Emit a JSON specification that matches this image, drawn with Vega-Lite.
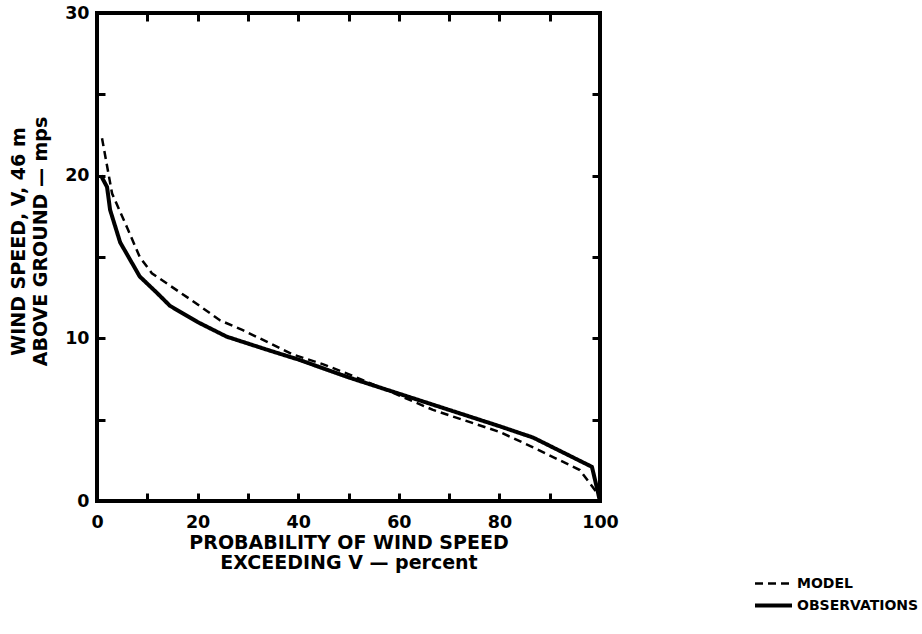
{
  "$schema": "https://vega.github.io/schema/vega-lite/v6.json",
  "width": 503,
  "height": 488,
  "autosize": "none",
  "padding": {"left": 97, "top": 13, "right": 322, "bottom": 133},
  "config": {
    "view": {"stroke": "black", "strokeWidth": 4},
    "font": "DejaVu Sans",
    "axis": {
      "domain": false,
      "grid": false,
      "tickColor": "black",
      "tickWidth": 3,
      "tickSize": -8,
      "labelColor": "black",
      "labelFont": "DejaVu Sans",
      "labelFontWeight": "bold",
      "labelFontSize": 17.5,
      "labelFlush": false,
      "labelOverlap": false,
      "titleColor": "black",
      "titleFont": "DejaVu Sans",
      "titleFontWeight": "bold",
      "titleFontSize": 19,
      "titleLineHeight": 21
    },
    "legend": {
      "labelFont": "DejaVu Sans",
      "labelFontWeight": "bold",
      "labelFontSize": 14,
      "labelColor": "black"
    }
  },
  "data": {
    "values": [
      {"series": "OBSERVATIONS", "p": 0.8, "v": 20.0},
      {"series": "OBSERVATIONS", "p": 2.0, "v": 19.3},
      {"series": "OBSERVATIONS", "p": 2.6, "v": 17.9},
      {"series": "OBSERVATIONS", "p": 4.6, "v": 15.9},
      {"series": "OBSERVATIONS", "p": 8.5, "v": 13.8},
      {"series": "OBSERVATIONS", "p": 11.9, "v": 12.8},
      {"series": "OBSERVATIONS", "p": 14.5, "v": 12.0},
      {"series": "OBSERVATIONS", "p": 20.0, "v": 11.0},
      {"series": "OBSERVATIONS", "p": 25.8, "v": 10.1},
      {"series": "OBSERVATIONS", "p": 33.8, "v": 9.3},
      {"series": "OBSERVATIONS", "p": 40.0, "v": 8.7},
      {"series": "OBSERVATIONS", "p": 50.0, "v": 7.6},
      {"series": "OBSERVATIONS", "p": 60.0, "v": 6.6},
      {"series": "OBSERVATIONS", "p": 70.0, "v": 5.6},
      {"series": "OBSERVATIONS", "p": 80.0, "v": 4.6},
      {"series": "OBSERVATIONS", "p": 86.7, "v": 3.9},
      {"series": "OBSERVATIONS", "p": 98.4, "v": 2.1},
      {"series": "OBSERVATIONS", "p": 100.0, "v": 0.0},
      {"series": "MODEL", "p": 1.0, "v": 22.3},
      {"series": "MODEL", "p": 3.0, "v": 18.9},
      {"series": "MODEL", "p": 6.0, "v": 16.8},
      {"series": "MODEL", "p": 8.5, "v": 15.0},
      {"series": "MODEL", "p": 10.9, "v": 14.0},
      {"series": "MODEL", "p": 19.0, "v": 12.3},
      {"series": "MODEL", "p": 24.5, "v": 11.1},
      {"series": "MODEL", "p": 29.0, "v": 10.5},
      {"series": "MODEL", "p": 39.0, "v": 9.0},
      {"series": "MODEL", "p": 45.0, "v": 8.4},
      {"series": "MODEL", "p": 50.0, "v": 7.8},
      {"series": "MODEL", "p": 60.0, "v": 6.5},
      {"series": "MODEL", "p": 66.8, "v": 5.6},
      {"series": "MODEL", "p": 80.0, "v": 4.25},
      {"series": "MODEL", "p": 86.7, "v": 3.3},
      {"series": "MODEL", "p": 96.0, "v": 1.9},
      {"series": "MODEL", "p": 99.4, "v": 0.5},
      {"series": "MODEL", "p": 100.0, "v": 0.0}
    ]
  },
  "layer": [
    {
      "transform": [{"filter": "datum.series == 'OBSERVATIONS'"}],
      "mark": {"type": "line", "color": "black", "strokeJoin": "round"},
      "encoding": {
        "x": {
          "field": "p", "type": "quantitative",
          "scale": {"domain": [0, 100], "nice": false},
          "axis": {
            "orient": "bottom",
            "values": [0, 10, 20, 30, 40, 50, 60, 70, 80, 90, 100],
            "labelExpr": "datum.value % 20 == 0 ? datum.label : ''",
            "labelPadding": 20,
            "title": ["PROBABILITY OF WIND SPEED", "EXCEEDING V — percent"],
            "titlePadding": 3,
            "titleLineHeight": 20
          }
        },
        "y": {
          "field": "v", "type": "quantitative",
          "scale": {"domain": [0, 30], "nice": false},
          "axis": {
            "orient": "left",
            "values": [0, 5, 10, 15, 20, 25, 30],
            "labelExpr": "datum.value % 10 == 0 ? datum.label : ''",
            "labelPadding": 16,
            "title": ["WIND SPEED, V, 46 m", "ABOVE GROUND — mps"],
            "titlePadding": 14,
            "titleLineHeight": 22,
            "titleY": 228
          }
        },
        "strokeDash": {
          "field": "series", "type": "nominal",
          "scale": {"domain": ["MODEL", "OBSERVATIONS"], "range": [[8, 5], [1, 0]]},
          "legend": {
            "title": null,
            "orient": "none",
            "legendX": 665,
            "legendY": 560,
            "symbolType": "M-2,0H2",
            "symbolSize": 342,
            "symbolStrokeColor": "black",
            "symbolStrokeWidth": 3,
            "labelOffset": 12,
            "rowPadding": 3
          }
        },
        "strokeWidth": {
          "field": "series", "type": "nominal",
          "scale": {"domain": ["MODEL", "OBSERVATIONS"], "range": [2.5, 4]},
          "legend": null
        }
      }
    },
    {
      "transform": [{"filter": "datum.series == 'MODEL'"}],
      "mark": {"type": "line", "color": "black"},
      "encoding": {
        "x": {
          "field": "p", "type": "quantitative",
          "axis": {
            "orient": "top",
            "values": [10, 20, 30, 40, 50, 60, 70, 80, 90],
            "labels": false,
            "title": null
          }
        },
        "y": {
          "field": "v", "type": "quantitative",
          "axis": {
            "orient": "right",
            "values": [5, 10, 15, 20, 25],
            "labels": false,
            "title": null
          }
        },
        "strokeDash": {"field": "series", "type": "nominal"},
        "strokeWidth": {"field": "series", "type": "nominal", "legend": null}
      }
    }
  ],
  "resolve": {"axis": {"x": "independent", "y": "independent"}}
}
